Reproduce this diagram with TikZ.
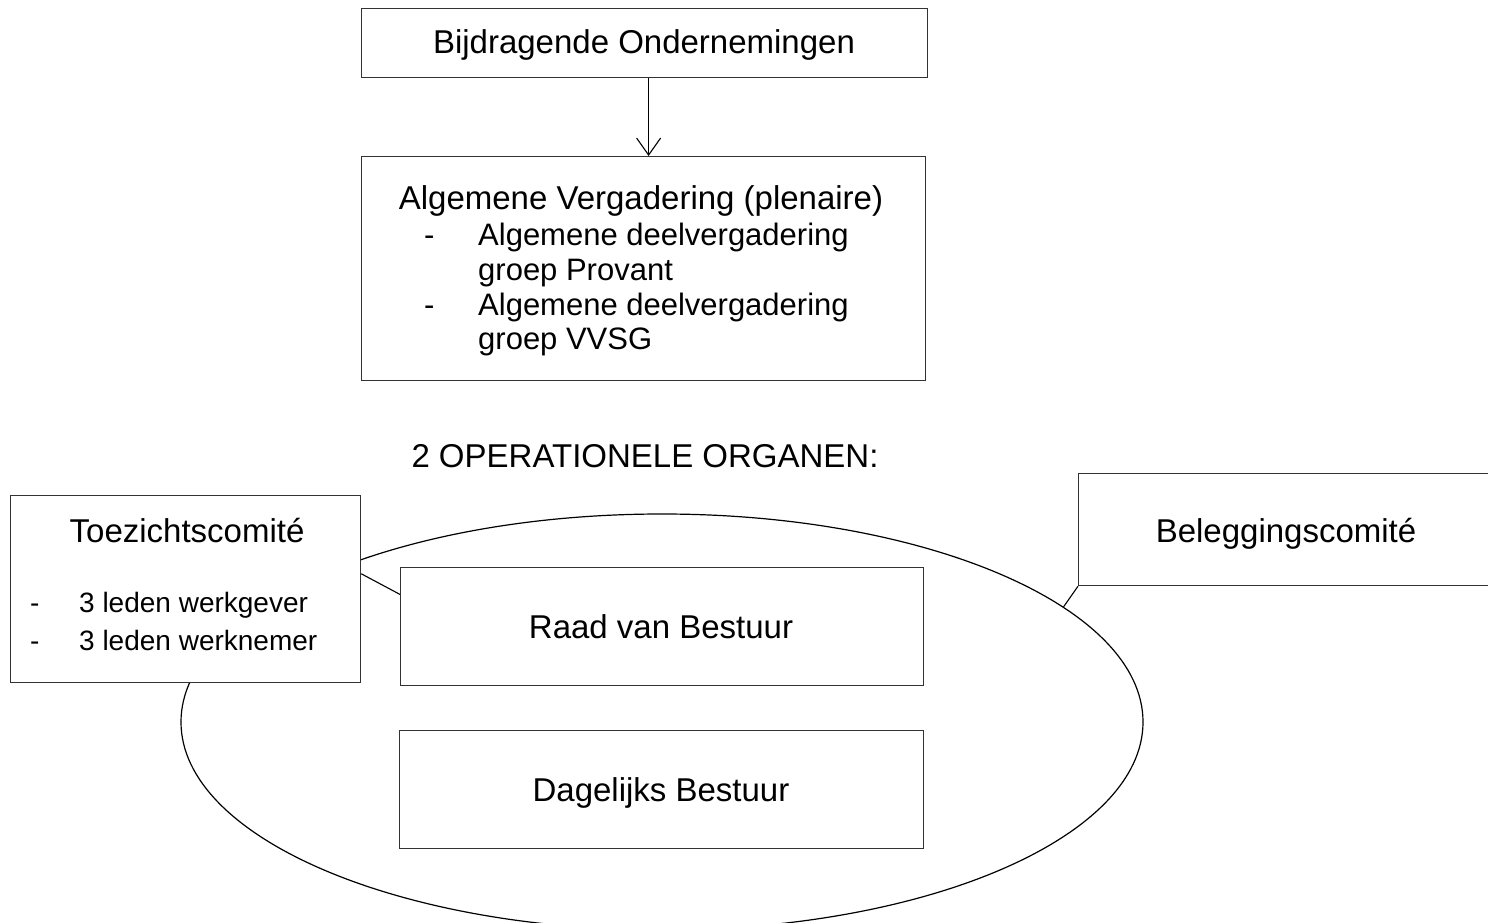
\documentclass[tikz,border=0pt]{standalone}
\usepackage{fontspec}
\setmainfont{Liberation Sans}
\usetikzlibrary{shapes.geometric,arrows.meta}
\begin{document}
\begin{tikzpicture}[x=1pt,y=-1pt,
  box/.style={draw=black!80,line width=1.2pt,fill=white,rectangle,inner sep=0pt,anchor=north west},
  big/.style={font=\fontsize{33}{38}\selectfont,inner sep=0pt,anchor=base},
  mid/.style={font=\fontsize{31}{38}\selectfont,inner sep=0pt,anchor=base west},
  small/.style={font=\fontsize{28}{32}\selectfont,inner sep=0pt,anchor=base west},
  link/.style={draw=black,line width=1.1pt}]
\useasboundingbox (0,0) rectangle (1488,923);
% ellipse
\node[ellipse,draw=black,line width=1.2pt,minimum width=962pt,minimum height=416pt,inner sep=0pt] (ell) at (662,722) {};
% boxes
\node[box,minimum width=566pt,minimum height=69pt] (bo) at (361,8) {};
\node[box,minimum width=564pt,minimum height=224pt] (av) at (361,156) {};
\node[box,minimum width=350pt,minimum height=187pt] (toez) at (10,495) {};
\node[box,minimum width=523pt,minimum height=118pt] (raad) at (400,567) {};
\node[box,minimum width=524pt,minimum height=118pt] (dag) at (399,730) {};
\node[box,minimum width=430pt,minimum height=112pt] (bel) at (1078,473) {};
% connectors
\draw[line width=1.1pt,-{Straight Barb[length=17pt,width=24pt]}] ([xshift=4pt]bo.south) -- ([xshift=5pt]av.north);
\draw[link] (toez.5) -- (raad.173);
\draw[link] (bel.south west) -- (ell.16.6);
% texts
\node[big] (t1) at (644,54) {Bijdragende Ondernemingen};
\node[big] (t2) at (641,209) {Algemene Vergadering (plenaire)};
\node[mid] (d1) at (424,245) {-};
\node[mid] (t3) at (478,245) {Algemene deelvergadering};
\node[mid] (t4) at (478,280) {groep Provant};
\node[mid] (d2) at (424,315) {-};
\node[mid] (t5) at (478,315) {Algemene deelvergadering};
\node[mid] (t6) at (478,349) {groep VVSG};
\node[big] (t7) at (645,467) {2 OPERATIONELE ORGANEN:};
\node[big] (t8) at (187,542) {Toezichtscomité};
\node[small] (d3) at (30,612) {-};
\node[small] (t9) at (79,612) {3 leden werkgever};
\node[small] (d4) at (30,650) {-};
\node[small] (t10) at (79,650) {3 leden werknemer};
\node[big] (t11) at (661,638) {Raad van Bestuur};
\node[big] (t12) at (661,801) {Dagelijks Bestuur};
\node[big] (t13) at (1286,542) {Beleggingscomité};
\end{tikzpicture}
\end{document}
